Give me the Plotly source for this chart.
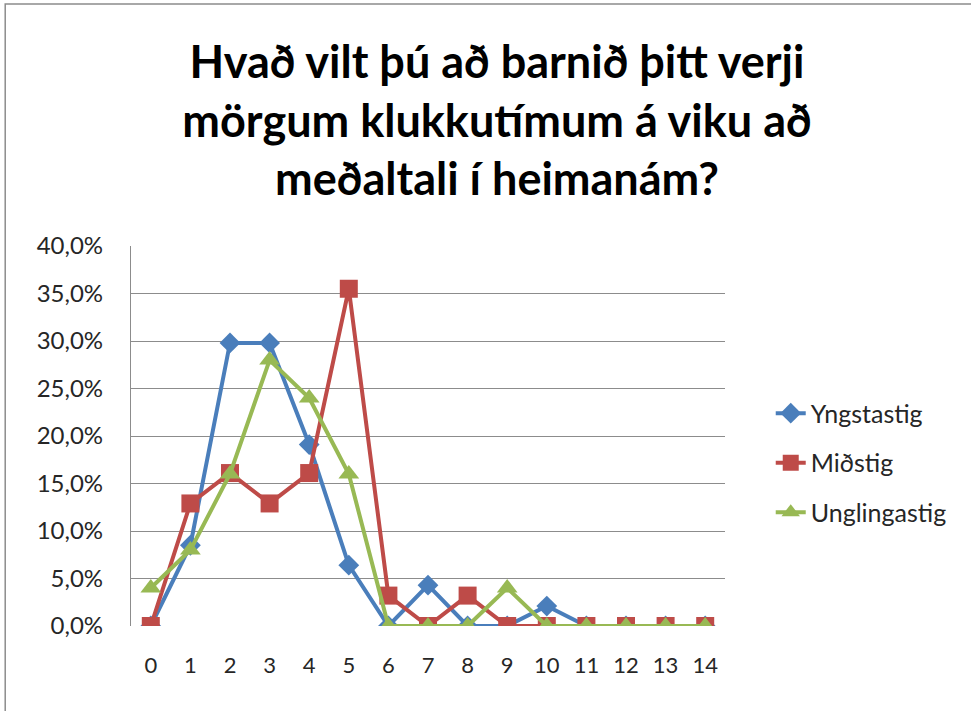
import plotly.graph_objects as go

categories = list(range(15))
yngstastig = [0.0, 8.5, 29.8, 29.8, 19.1, 6.4, 0.0, 4.3, 0.0, 0.0, 2.1, 0.0, 0.0, 0.0, 0.0]
midstig = [0.0, 12.9, 16.1, 12.9, 16.1, 35.5, 3.2, 0.0, 3.2, 0.0, 0.0, 0.0, 0.0, 0.0, 0.0]
unglingastig = [4.0, 8.0, 16.0, 28.0, 24.0, 16.0, 0.0, 0.0, 0.0, 4.0, 0.0, 0.0, 0.0, 0.0, 0.0]
y_ticks = [0, 5, 10, 15, 20, 25, 30, 35, 40]
y_ticktext = ["0,0%", "5,0%", "10,0%", "15,0%", "20,0%", "25,0%", "30,0%", "35,0%", "40,0%"]

FONT = "Lato, Carlito, Calibri, sans-serif"

fig = go.Figure()
series = [
    ("Yngstastig", yngstastig, "#4A7EBB", "diamond", 16),
    ("Miðstig", midstig, "#BE4B48", "square", 18),
    ("Unglingastig", unglingastig, "#98B954", "triangle-up", 18),
]
for i, (name, vals, col, sym, sz) in enumerate(series):
    fig.add_trace(go.Scatter(
        x=categories, y=vals, name=name, mode="lines+markers",
        line=dict(color=col, width=4),
        marker=dict(symbol=sym, size=sz, color=col),
        legendgroup=f"g{i}",
    ))

fig.update_layout(
    width=971, height=711,
    margin=dict(l=131, r=246, t=246, b=85),
    paper_bgcolor="white", plot_bgcolor="white",
    font=dict(family=FONT, color="#262626"),
    title=dict(
        text="Hvað vilt þú að barnið þitt verji<br>mörgum klukkutímum á viku að<br>meðaltali í heimanám?",
        x=497 / 971, xref="container", xanchor="center",
        y=1 - 78 / 711, yref="container", yanchor="top",
        font=dict(family=FONT, size=45, color="#000000", weight="bold"),
    ),
    showlegend=True,
    legend=dict(
        x=1.077, xanchor="left", y=0.62, yanchor="top",
        font=dict(family=FONT, size=25, color="#262626"),
        tracegroupgap=14,
        bgcolor="rgba(0,0,0,0)",
    ),
    shapes=[dict(type="rect", xref="paper", yref="paper",
                 x0=-126 / 595, x1=1.6, y0=-0.5, y1=(626 - 4) / 380,
                 line=dict(color="#8c8c8c", width=1.5), fillcolor="rgba(0,0,0,0)",
                 layer="below")],
)
fig.update_xaxes(
    range=[-0.5, 14.5], tickmode="array", tickvals=categories,
    ticktext=[str(c) for c in categories],
    showgrid=False, zeroline=False, showline=False,
    ticks="", ticklabelstandoff=24,
    tickfont=dict(family=FONT, size=22, color="#262626"),
)
fig.update_yaxes(
    range=[0, 40], tickmode="array", tickvals=y_ticks, ticktext=y_ticktext,
    showgrid=True, gridcolor="#8c8c8c", gridwidth=1.2,
    zeroline=False, showline=True, linecolor="#8c8c8c", linewidth=1.2,
    ticks="", ticklabelstandoff=22,
    tickfont=dict(family=FONT, size=24, color="#262626"),
)
fig.write_html("out.html", config={"displayModeBar": False},
               post_script="document.body.style.margin='0';")
